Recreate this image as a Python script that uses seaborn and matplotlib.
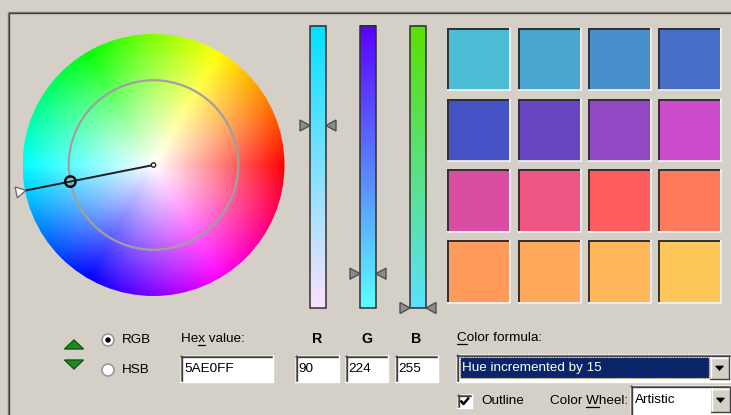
import numpy as np
import matplotlib
matplotlib.use("Agg")
import matplotlib.pyplot as plt
from matplotlib.patches import Rectangle, Circle, Polygon
from matplotlib.colors import hsv_to_rgb
import seaborn as sns

# ---------------- data ----------------
current_rgb = [90, 224, 255]
channel_labels = ["R", "G", "B"]
hex_value = "5AE0FF"
swatch_colors = [
    "#4DBDD6", "#48A5D0", "#478ECB", "#4670C8",
    "#4452C6", "#6645C2", "#9148C2", "#CC4ACC",
    "#D94EA3", "#EE5784", "#FF5C5C", "#FF7A5A",
    "#FF9A5A", "#FFA95A", "#FFB75A", "#FFC75A",
]
color_modes = ["RGB", "HSB"]
selected_mode = "RGB"
formula_label = "Color formula:"
formula_value = "Hue incremented by 15"
outline_label = "Outline"
wheel_label = "Color Wheel:"
wheel_value = "Artistic"

# ---------------- style ----------------
sns.set_theme(style="white")
plt.rcParams["font.family"] = ["Liberation Sans", "DejaVu Sans"]
BG = "#D4D0C8"
palette = sns.color_palette(swatch_colors)
FS = 9.7

W, H = 731, 415
fig = plt.figure(figsize=(W / 100, H / 100), dpi=100, facecolor=BG)
ax = fig.add_axes([0, 0, 1, 1])
ax.set_facecolor(BG)
ax.set_xlim(0, W)
ax.set_ylim(H, 0)
ax.axis("off")

# frame
ax.plot([8, W], [12, 12], color="#808080", lw=1, solid_capstyle="butt")
ax.plot([9, W], [13.2, 13.2], color="#404040", lw=1, solid_capstyle="butt")
ax.plot([8, 8], [12, H], color="#808080", lw=1, solid_capstyle="butt")
ax.plot([9.2, 9.2], [13, H], color="#404040", lw=1, solid_capstyle="butt")

# ---------------- colour wheel ----------------
cx, cy, R = 153.5, 165.0, 131.0
N = 500
xs = np.linspace(cx - R, cx + R, N)
ys = np.linspace(cy - R, cy + R, N)
XX, YY = np.meshgrid(xs, ys)
dx = XX - cx
dy = cy - YY
rr = np.hypot(dx, dy)
hue = (np.arctan2(dy, dx) / (2 * np.pi)) % 1.0
sat = np.clip(rr / R, 0, 1)
hsv = np.stack([hue, sat, np.ones_like(hue)], axis=-1)
img = hsv_to_rgb(hsv)
im = ax.imshow(img, extent=(cx - R, cx + R, cy + R, cy - R), origin="upper",
               aspect="auto", interpolation="bilinear", zorder=1)
clip = Circle((cx, cy), R, transform=ax.transData)
im.set_clip_path(clip)

# current colour -> hue / saturation
r_, g_, b_ = [v / 255 for v in current_rgb]
mx, mn = max(r_, g_, b_), min(r_, g_, b_)
d = mx - mn
if mx == b_:
    h_deg = 60 * ((r_ - g_) / d) + 240
elif mx == g_:
    h_deg = 60 * ((b_ - r_) / d) + 120
else:
    h_deg = (60 * ((g_ - b_) / d)) % 360
s_val = d / mx
ang = np.deg2rad(h_deg)
ux, uy = np.cos(ang), -np.sin(ang)

ax.add_patch(Circle((cx, cy), s_val * R, fill=False, ec="#A0A0A0", lw=1.6, zorder=2))
ax.plot([cx, cx + ux * R], [cy, cy + uy * R], color="#202020", lw=1.4, zorder=3)
ax.add_patch(Circle((cx, cy), 2.2, fc="white", ec="#202020", lw=1, zorder=4))
ax.add_patch(Circle((cx + ux * s_val * R, cy + uy * s_val * R), 5.2, fill=False,
                    ec="#101010", lw=1.8, zorder=4))
# outer pointer triangle (tip on wheel edge, pointing to centre)
tip = np.array([cx + ux * (R - 1), cy + uy * (R - 1)])
back = tip + np.array([ux, uy]) * 10
perp = np.array([-uy, ux]) * 5.5
ax.add_patch(Polygon([tip, back + perp, back - perp], closed=True, fc="white",
                     ec="#707070", lw=1, zorder=5))

# ---------------- sliders ----------------
slider_x = [310, 360, 410]
s_w = 16
s_top, s_bot = 26, 308
for i, x0 in enumerate(slider_x):
    grad = np.zeros((256, 1, 3))
    for c in range(3):
        grad[:, 0, c] = current_rgb[c] / 255
    grad[:, 0, i] = np.linspace(0, 1, 256)
    ax.imshow(grad, extent=(x0, x0 + s_w, s_bot, s_top), origin="upper",
              aspect="auto", interpolation="bilinear", zorder=1)
    ax.add_patch(Rectangle((x0, s_top), s_w, s_bot - s_top, fill=False,
                           ec="#303030", lw=1.1, zorder=2))
    yv = s_top + current_rgb[i] / 255 * (s_bot - s_top)
    ax.add_patch(Polygon([[x0, yv], [x0 - 10, yv - 5.5], [x0 - 10, yv + 5.5]],
                         fc="#8C8C8C", ec="#505050", lw=1, zorder=3))
    ax.add_patch(Polygon([[x0 + s_w, yv], [x0 + s_w + 10, yv - 5.5], [x0 + s_w + 10, yv + 5.5]],
                         fc="#8C8C8C", ec="#505050", lw=1, zorder=3))

# ---------------- swatches ----------------
sw_x = [447, 518, 588, 658]
sw_y = [28, 99, 169, 240]
sw = 62
for k, col in enumerate(palette):
    rI, cI = divmod(k, 4)
    x0, y0 = sw_x[cI], sw_y[rI]
    ax.add_patch(Rectangle((x0, y0), sw, sw, fc=col, ec="none", zorder=1))
    ax.plot([x0, x0 + sw], [y0 + 0.7, y0 + 0.7], color="#303030", lw=1.4, zorder=2,
            solid_capstyle="butt")
    ax.plot([x0 + 0.7, x0 + 0.7], [y0, y0 + sw], color="#303030", lw=1.4, zorder=2,
            solid_capstyle="butt")
    ax.plot([x0, x0 + sw + 1], [y0 + sw + 0.5, y0 + sw + 0.5], color="#F4F4F4", lw=1.2,
            zorder=2, solid_capstyle="butt")
    ax.plot([x0 + sw + 0.5, x0 + sw + 0.5], [y0, y0 + sw + 1], color="#F4F4F4", lw=1.2,
            zorder=2, solid_capstyle="butt")

# ---------------- helpers ----------------
renderer = fig.canvas.get_renderer()


def label(x, y, s, underline=None, **kw):
    t = ax.text(x, y, s, fontsize=kw.pop("fontsize", FS), va="center", ha="left",
                color=kw.pop("color", "black"), zorder=6, **kw)
    if underline is not None:
        pre = ax.text(x, y, s[:underline], fontsize=FS, va="center", ha="left")
        chs = ax.text(x, y, s[underline], fontsize=FS, va="center", ha="left")
        w0 = pre.get_window_extent(renderer).width if underline > 0 else 0
        w1 = chs.get_window_extent(renderer).width
        pre.remove()
        chs.remove()
        ax.plot([x + w0, x + w0 + w1], [y + 5.5, y + 5.5], color="black", lw=0.9, zorder=6)
    return t


def sunken_box(x0, y0, w, h, fc="white"):
    ax.add_patch(Rectangle((x0, y0), w, h, fc=fc, ec="none", zorder=2))
    ax.plot([x0, x0 + w], [y0 + 0.5, y0 + 0.5], color="#808080", lw=1, zorder=3)
    ax.plot([x0 + 0.5, x0 + 0.5], [y0, y0 + h], color="#808080", lw=1, zorder=3)
    ax.plot([x0 + 1, x0 + w - 1], [y0 + 1.6, y0 + 1.6], color="#404040", lw=1, zorder=3)
    ax.plot([x0 + 1.6, x0 + 1.6], [y0 + 1, y0 + h - 1], color="#404040", lw=1, zorder=3)
    ax.plot([x0, x0 + w], [y0 + h - 0.5, y0 + h - 0.5], color="white", lw=1, zorder=3)
    ax.plot([x0 + w - 0.5, x0 + w - 0.5], [y0, y0 + h], color="white", lw=1, zorder=3)


def drop_button(x0, y0, w, h):
    ax.add_patch(Rectangle((x0, y0), w, h, fc=BG, ec="none", zorder=3))
    ax.plot([x0, x0 + w], [y0 + 0.5, y0 + 0.5], color="white", lw=1, zorder=4)
    ax.plot([x0 + 0.5, x0 + 0.5], [y0, y0 + h], color="white", lw=1, zorder=4)
    ax.plot([x0, x0 + w], [y0 + h - 0.5, y0 + h - 0.5], color="#404040", lw=1, zorder=4)
    ax.plot([x0 + w - 0.5, x0 + w - 0.5], [y0, y0 + h], color="#404040", lw=1, zorder=4)
    mx_, my_ = x0 + w / 2, y0 + h / 2
    ax.add_patch(Polygon([[mx_ - 4, my_ - 2], [mx_ + 4, my_ - 2], [mx_, my_ + 2.5]],
                         fc="black", ec="black", lw=0.5, zorder=5))


# ---------------- bottom-left controls ----------------
ax.add_patch(Polygon([[74, 340], [83.5, 349], [64.5, 349]], fc="#1F8A1F", ec="#0E5A0E", lw=1, zorder=3))
ax.add_patch(Polygon([[64.5, 360], [83.5, 360], [74, 369]], fc="#1F8A1F", ec="#0E5A0E", lw=1, zorder=3))

radio_y = [340, 370]
for mode, yv in zip(color_modes, radio_y):
    ax.add_patch(Circle((108, yv), 6, fc="white", ec="#9A9A9A", lw=1.2, zorder=3))
    if mode == selected_mode:
        ax.add_patch(Circle((108, yv), 2, fc="black", ec="black", zorder=4))
    label(122, yv, mode)

label(181, 339, "Hex value:", underline=2)
sunken_box(180, 355, 93, 27)
label(184, 368.5, hex_value)

chan_x = [295, 345, 395]
chan_w = [44, 43, 43]
for x0, w, lab, v in zip(chan_x, chan_w, channel_labels, current_rgb):
    label(x0 + w / 2, 339, lab, fontweight="bold", fontsize=FS + 0.5)
    ax.texts[-1].set_ha("center")
    sunken_box(x0, 355, w, 27)
    label(x0 + 3, 368.5, str(v))

# ---------------- bottom-right controls ----------------
label(457, 338, formula_label, underline=0)
sunken_box(456, 354, 275, 28)
ax.add_patch(Rectangle((460, 357), 249, 21, fc="#0A246A", ec="#E0D080", lw=0.9,
                       ls=(0, (1, 1)), zorder=4))
label(462, 368, formula_value, color="white")
drop_button(710, 357, 19, 22)

sunken_box(457, 394, 15, 14)
ax.plot([460.5, 463.5, 469], [400.5, 404, 397.5], color="black", lw=1.8, zorder=5,
        solid_capstyle="butt")
label(481, 401, outline_label)

label(550, 401, wheel_label, underline=6)
sunken_box(630, 385, 101, 32)
label(635, 400, wheel_value)
drop_button(711, 388, 19, 24)

fig.savefig("out.png", dpi=100, facecolor=BG)
